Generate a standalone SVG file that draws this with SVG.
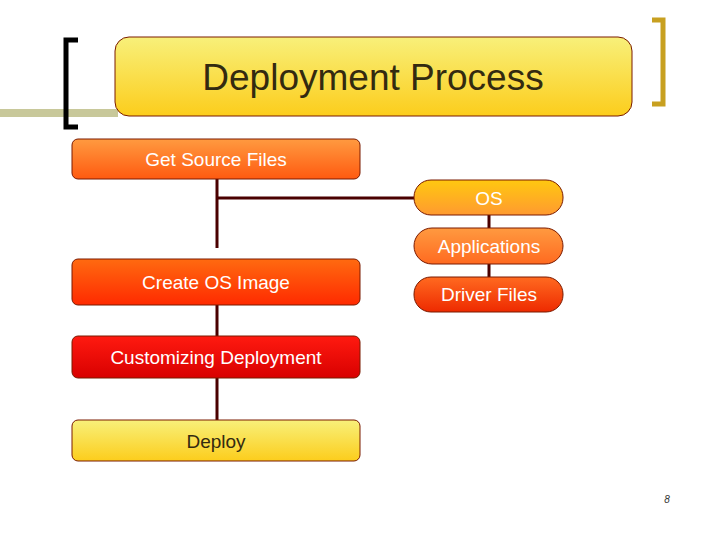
<svg xmlns="http://www.w3.org/2000/svg" width="720" height="540" viewBox="0 0 720 540">
<defs>
<linearGradient id="gY" x1="0" y1="0" x2="0" y2="1"><stop offset="0" stop-color="#f8f07a"/><stop offset="1" stop-color="#fccd1c"/></linearGradient>
<linearGradient id="gO1" x1="0" y1="0" x2="0" y2="1"><stop offset="0" stop-color="#ff9a40"/><stop offset="1" stop-color="#ff5a10"/></linearGradient>
<linearGradient id="gO2" x1="0" y1="0" x2="0" y2="1"><stop offset="0" stop-color="#ff6a10"/><stop offset="1" stop-color="#ff2a00"/></linearGradient>
<linearGradient id="gR" x1="0" y1="0" x2="0" y2="1"><stop offset="0" stop-color="#ff1a10"/><stop offset="1" stop-color="#d80000"/></linearGradient>
<linearGradient id="gP1" x1="0" y1="0" x2="0" y2="1"><stop offset="0" stop-color="#ffc810"/><stop offset="1" stop-color="#ff9a30"/></linearGradient>
<linearGradient id="gP2" x1="0" y1="0" x2="0" y2="1"><stop offset="0" stop-color="#ff9a40"/><stop offset="1" stop-color="#ff6a20"/></linearGradient>
<linearGradient id="gP3" x1="0" y1="0" x2="0" y2="1"><stop offset="0" stop-color="#ff6a20"/><stop offset="1" stop-color="#ee2a00"/></linearGradient>
</defs>
<style>
.b{stroke:#7a1a00;stroke-width:1}
.t{font-family:"Liberation Sans",Arial,sans-serif;font-size:19px;text-anchor:middle;fill:#fff}
.c{stroke:#4a0000;stroke-width:3;fill:none}
</style>
<rect x="0" y="109" width="118" height="8" fill="#c8c89a"/>
<path d="M78 40 H66 V127 H78" fill="none" stroke="#000" stroke-width="5"/>
<path d="M652 20 H663 V104 H652" fill="none" stroke="#c8a020" stroke-width="5"/>
<g id="title"><rect x="115" y="37" width="517" height="79" rx="14" fill="url(#gY)" class="b"/>
<text x="373" y="90" font-family="Liberation Sans,Arial,sans-serif" font-size="37" text-anchor="middle" fill="#332a10">Deployment Process</text></g>
<g id="connectors">
<path class="c" d="M217 179 V248 M217 198 H415 M217 305 V336 M217 378 V420 M489 214 V228 M489 264 V277"/>
</g>
<g id="get"><rect x="72" y="139" width="288" height="40" rx="6" fill="url(#gO1)" class="b"/><text class="t" x="216" y="166">Get Source Files</text></g>
<g id="create"><rect x="72" y="259" width="288" height="46" rx="6" fill="url(#gO2)" class="b"/><text class="t" x="216" y="289">Create OS Image</text></g>
<g id="custom"><rect x="72" y="336" width="288" height="42" rx="6" fill="url(#gR)" class="b"/><text class="t" x="216" y="364">Customizing Deployment</text></g>
<g id="deploy"><rect x="72" y="420" width="288" height="41" rx="6" fill="url(#gY)" class="b"/><text class="t" x="216" y="448" fill="#332a10" style="fill:#332a10">Deploy</text></g>
<g id="os"><rect x="414" y="180" width="149" height="35" rx="17" fill="url(#gP1)" class="b"/><text class="t" x="489" y="205">OS</text></g>
<g id="apps"><rect x="414" y="228" width="149" height="36" rx="18" fill="url(#gP2)" class="b"/><text class="t" x="489" y="253">Applications</text></g>
<g id="drivers"><rect x="414" y="277" width="149" height="35" rx="17" fill="url(#gP3)" class="b"/><text class="t" x="489" y="301">Driver Files</text></g>
<text x="667" y="503" font-family="Liberation Sans,Arial,sans-serif" font-size="10" font-style="italic" text-anchor="middle" fill="#333">8</text>
</svg>
